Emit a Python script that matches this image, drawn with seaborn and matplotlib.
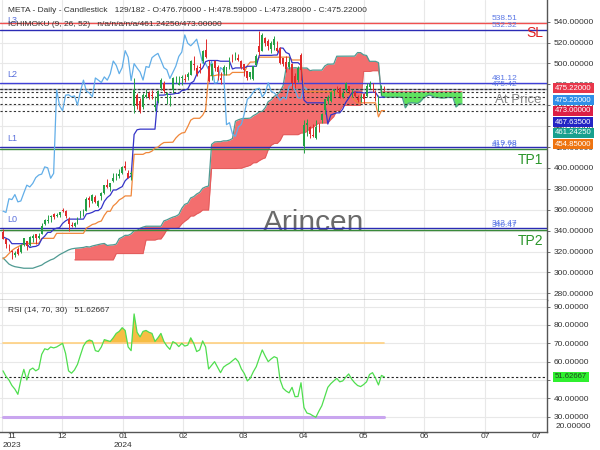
import numpy as np
import matplotlib
matplotlib.use('Agg')
import matplotlib.pyplot as plt
import seaborn as sns

# ---------------- data ----------------
opens = [339.0, 331.6, 325.5, 320.6, 316.6, 322.1, 319.1, 326.4, 329.6, 325.9,
         332.6, 336.6, 332.5, 337.2, 346.8, 349.2, 353.1, 355.6, 354.1, 355.1,
         359.7, 358.9, 351.3, 345.0, 344.5, 347.0, 354.7, 356.4, 359.0, 371.5,
         368.5, 372.6, 363.4, 373.4, 375.6, 383.2, 381.3, 387.9, 392.8, 391.9,
         394.7, 401.7, 395.3, 393.9, 459.6, 469.9, 464.0, 458.0, 468.3, 471.3,
         469.5, 458.0, 463.6, 476.9, 481.0, 470.0, 467.3, 475.0, 484.0, 479.5,
         486.5, 485.3, 486.8, 489.1, 499.0, 495.9, 497.0, 502.2, 513.3, 498.0,
         487.9, 502.5, 496.7, 486.5, 492.2, 492.6, 496.5, 507.9, 508.0, 505.0,
         502.5, 499.3, 492.8, 487.2, 485.1, 498.9, 516.8, 512.0, 524.7, 521.3,
         513.6, 518.0, 515.0, 515.1, 504.9, 500.9, 496.3, 499.8, 487.7, 483.9,
         508.1, 421.4, 441.5, 439.6, 431.6, 428.6, 442.2, 446.1, 455.8, 464.0,
         464.0, 473.5, 476.9, 476.2, 467.8, 474.5, 478.1, 471.5, 472.4, 466.6,
         466.6, 471.0, 469.2, 477.4, 475.5, 472.5, 465.8, 471.2, 476.76]
highs = [342.0, 331.9, 326.9, 321.1, 320.8, 324.4, 327.4, 333.4, 330.3, 334.7,
         336.3, 336.8, 337.4, 346.9, 351.1, 355.1, 355.0, 357.2, 356.9, 358.2,
         361.9, 360.0, 353.2, 347.9, 348.2, 353.5, 359.0, 360.6, 372.0, 373.0,
         375.0, 373.8, 369.1, 376.9, 383.9, 389.5, 386.0, 395.5, 394.7, 398.8,
         401.9, 406.4, 397.8, 396.9, 486.0, 471.9, 467.1, 471.5, 475.1, 473.8,
         474.8, 468.9, 474.4, 486.4, 483.0, 472.6, 469.7, 486.9, 488.2, 488.4,
         488.8, 489.8, 492.0, 503.1, 506.7, 498.9, 500.6, 512.6, 523.6, 503.3,
         500.5, 503.3, 498.2, 492.0, 498.1, 497.0, 505.9, 508.8, 510.8, 509.3,
         503.6, 499.7, 492.8, 491.5, 498.0, 509.1, 531.5, 528.7, 525.7, 522.9,
         521.0, 526.4, 521.6, 515.3, 505.6, 506.9, 506.6, 500.5, 490.8, 497.5,
         510.0, 445.8, 446.4, 439.8, 442.4, 445.4, 442.8, 452.9, 466.4, 469.5,
         473.9, 476.0, 478.0, 477.5, 474.3, 482.0, 478.5, 475.2, 473.8, 470.1,
         471.0, 472.0, 481.3, 483.3, 480.9, 474.3, 469.5, 479.1, 478.59]
lows = [331.5, 323.4, 320.8, 312.9, 315.2, 316.8, 318.2, 325.6, 321.5, 325.2,
        328.7, 327.4, 331.8, 336.7, 345.4, 347.6, 348.5, 351.2, 352.9, 353.0,
        357.8, 351.8, 340.0, 343.2, 343.4, 346.3, 352.1, 353.9, 358.5, 362.2,
        366.8, 366.0, 362.3, 369.0, 374.6, 380.4, 378.0, 387.0, 388.5, 390.7,
        394.4, 398.4, 389.9, 388.2, 453.0, 456.6, 453.0, 456.2, 467.1, 465.6,
        466.1, 454.4, 462.3, 475.0, 471.6, 461.1, 459.1, 472.1, 480.9, 478.9,
        479.8, 482.5, 484.5, 488.5, 493.6, 488.0, 490.7, 500.6, 505.6, 482.0,
        484.1, 493.0, 484.3, 480.5, 488.6, 489.3, 495.1, 501.8, 503.7, 502.0,
        494.2, 487.9, 483.8, 485.0, 484.5, 498.0, 508.5, 511.8, 517.0, 512.7,
        510.2, 513.0, 510.6, 499.0, 497.6, 492.0, 495.0, 475.0, 476.5, 482.2,
        484.6, 414.5, 431.0, 428.6, 429.8, 427.4, 434.5, 443.2, 451.4, 460.7,
        463.4, 468.9, 472.6, 466.9, 467.1, 472.6, 471.8, 467.6, 467.5, 462.8,
        463.0, 461.4, 467.7, 475.3, 473.0, 464.2, 454.9, 469.6, 473.28]
closes = [332.2, 327.2, 324.8, 320.0, 318.3, 317.9, 326.6, 332.8, 325.3, 334.2,
          334.7, 333.2, 334.9, 344.6, 350.4, 349.3, 354.1, 353.4, 354.8, 357.8,
          358.3, 354.0, 346.3, 344.5, 347.1, 351.9, 358.7, 357.4, 370.5, 369.7,
          374.5, 367.5, 368.4, 376.1, 383.5, 381.8, 385.2, 390.7, 393.2, 394.1,
          401.0, 400.1, 390.1, 394.8, 474.9, 459.4, 454.7, 469.6, 470.0, 468.1,
          468.9, 460.1, 473.3, 484.0, 473.3, 471.8, 468.0, 486.1, 484.0, 481.7,
          487.1, 484.0, 490.1, 502.3, 498.2, 490.2, 496.1, 512.2, 506.0, 483.6,
          499.8, 495.6, 491.8, 484.1, 497.0, 496.2, 505.5, 507.8, 509.6, 503.0,
          495.9, 493.9, 485.6, 491.4, 497.4, 506.7, 510.9, 527.3, 519.3, 516.9,
          519.8, 523.2, 511.9, 500.2, 499.8, 494.2, 501.8, 481.1, 481.7, 496.1,
          493.5, 441.4, 443.3, 432.6, 430.2, 439.2, 441.7, 452.0, 465.7, 468.2,
          472.6, 475.4, 476.2, 468.0, 471.9, 481.5, 473.2, 471.9, 468.8, 464.6,
          467.8, 465.8, 478.2, 479.9, 474.4, 467.1, 466.8, 477.5, 475.22]

tenkan = ([334.0, 332.7, 331.4] + [327.5] * 6 +
          [323.8, 324.6, 324.9, 326.3, 331.9, 334.7, 338.3, 338.3, 341.2, 342.3, 342.8, 346.9, 349.3] +
          [351.0] * 6 +
          [356.0, 356.5, 357.5, 359.1, 359.2, 361.6, 368.0, 371.7, 374.0, 378.9, 378.9, 380.6, 382.1,
           387.7, 390.5, 392.2, 432.0, 436.5] + [437.1] * 6 +
          [469.5, 469.7, 469.7, 470.4, 470.4, 470.7, 471.3, 471.4, 474.0, 474.5, 475.6, 481.1, 482.9,
           489.4, 492.8, 495.8, 501.7] + [502.8] * 4 + [502.1] * 4 + [494.7] + [495.7] * 4 +
          [497.3] * 4 + [507.7] * 5 + [508.0, 508.0, 514.8, 514.6, 510.4, 509.2] + [500.7] * 3 +
          [498.3, 464.9] + [462.3] * 7 +
          [442.0, 450.7, 451.7, 452.7, 452.7, 456.3, 462.6, 466.7, 471.4, 472.7, 472.4, 472.4, 471.7,
           471.7, 472.4, 472.4, 472.4, 467.6, 467.6, 467.635])
kijun = ([313.0, 315.0, 318.0, 321.0, 323.0, 324.5, 326.0, 327.0] + [327.8] * 5 + [332.6] * 5 +
         [337.4] * 10 +
         [342.5, 344.1, 345.9, 346.6, 348.3, 349.2, 354.6, 358.5, 358.5, 363.7, 366.1, 369.4, 371.0] +
         [373.2] * 3 + [413.0] * 4 +
         [414.6, 414.7, 416.1, 419.0, 419.9, 422.5, 424.3, 424.4, 424.4, 424.6, 428.6, 431.5, 433.4,
          433.9, 439.5, 445.7, 447.5, 447.5, 447.5, 450.4, 455.9] +
         [488.3] * 3 + [489.0] * 5 + [491.4] * 5 + [497.9, 501.3, 501.3, 501.7] + [506.0] * 11 +
         [503.3] * 4 + [473.0] * 11 + [471.6] + [470.5] * 4 + [468.1, 464.9] + [462.3] * 7 +
         [448.9, 454.85, 454.85])

# leading span A, plotted 26 bars ahead (values for plotted bars 0..154)
span_a = ([314.0, 311.0, 308.0, 306.5, 305.5, 305.0, 304.5, 304.0, 304.0, 304.0, 304.0, 305.0,
           306.0, 307.0, 309.0, 310.5, 312.0, 313.0, 315.0, 317.0, 318.5, 320.0, 321.5, 322.5,
           323.0, 323.3] +
          [323.5, 323.9, 324.7, 324.3, 325.3, 326.0, 326.8, 327.3, 327.7, 325.8,
           326.2, 326.4, 327.1, 332.3, 333.7, 335.5, 335.5, 336.9, 339.9, 340.1,
           342.2, 343.4, 344.2, 344.2, 344.2, 344.2, 344.2, 344.2, 349.3, 350.3,
           351.7, 352.9, 353.8, 355.4, 361.3, 365.1, 366.3, 371.3, 372.5, 375.0,
           376.6, 380.5, 381.9, 382.7, 422.5, 424.8, 425.1, 425.1, 425.9, 425.9,
           426.6, 428.1, 444.7, 446.1, 447.0, 447.4, 447.4, 447.7, 450.0, 451.5,
           453.7, 454.2, 457.6, 463.4, 465.2, 468.5, 470.2, 473.1, 478.8, 495.6,
           495.6, 495.6, 495.9, 495.6, 495.6, 495.6, 495.6, 493.1, 493.6, 493.6,
           493.6, 493.6, 497.6, 499.3, 499.3, 499.5, 506.9, 506.9, 506.9, 506.9,
           506.9, 507.0, 507.0, 510.4, 510.3, 508.2, 507.6, 502.0, 502.0, 502.0,
           500.8, 469.0, 467.7, 467.7, 467.7, 467.7, 467.7, 467.7, 467.7, 457.5,
           461.9, 462.4, 462.2, 461.6, 463.4, 466.6, 468.6, 469.8, 468.8, 467.4,
           467.4, 467.0, 467.0, 467.4, 467.4, 467.4, 458.3, 461.2, 461.2425])
# leading span B (values for plotted bars 24..154)
span_b = ([312.0] * 14 + [318.0] * 10 +
          [331.0, 331.0, 331.0, 331.0, 332.0, 332.0, 336.0, 341.0, 342.0, 342.0, 342.0, 343.0,
           346.5, 349.0, 351.0, 354.0, 354.0, 356.0, 357.4, 359.7, 359.7, 359.7] +
          [399.4] * 9 + [399.7, 399.7, 400.8, 401.6, 402.6, 404.9, 405.0, 407.0, 408.6, 409.7,
                         417.5, 421.7, 423.4, 423.4, 426.3] +
          [431.8] * 6 + [433.4, 433.5, 435.0, 437.9, 438.8, 441.1, 442.9, 443.0, 443.0, 443.0,
                         446.3, 449.1, 454.8, 454.8, 459.3] +
          [459.9] * 6 + [492.3] * 3 + [493.0] * 3 + [473.0] * 28)

rsi = [55.0, 52.0, 50.0, 47.0, 45.0, 42.2, 50.0, 55.8, 50.0, 55.5,
       56.5, 55.0, 56.0, 64.0, 67.0, 66.5, 68.0, 67.5, 68.0, 69.0,
       70.0, 64.5, 55.0, 53.7, 55.5, 58.5, 63.6, 68.5, 71.0, 71.8,
       71.2, 66.0, 65.5, 68.0, 72.0, 71.5, 71.0, 73.0, 75.4, 76.5,
       78.5, 77.0, 68.0, 66.0, 86.0, 76.0, 73.5, 76.5, 77.0, 76.0,
       75.4, 71.0, 73.0, 75.4, 71.0, 68.5, 66.7, 70.9, 70.0, 68.2,
       70.0, 68.5, 69.0, 73.0, 70.0, 65.5, 66.4, 71.3, 68.0, 56.0,
       58.0, 60.0, 57.0, 54.0, 57.0, 58.2, 59.1, 60.5, 61.8, 60.0,
       56.0, 53.5, 49.5, 51.0, 54.5, 57.3, 62.0, 66.4, 63.0, 60.0,
       61.5, 62.7, 62.0, 50.0, 45.5, 44.0, 43.0, 46.0, 40.9, 41.0,
       48.5, 35.0, 32.0, 31.5, 30.5, 29.7, 33.0, 36.0, 41.0, 46.0,
       48.0, 49.5, 50.9, 49.0, 49.5, 51.5, 53.3, 50.5, 48.5, 47.0,
       46.4, 47.5, 49.0, 53.0, 54.0, 51.0, 47.3, 52.5, 51.62667]

month_labels = ['11', '12', '01', '02', '03', '04', '05', '06', '07', '07']
year_labels = ['2023', '', '2024', '', '', '', '', '', '', '']
price_ticks = [280, 300, 320, 340, 360, 380, 400, 420, 440, 460, 480, 500, 520, 540]
rsi_ticks = [30, 40, 50, 60, 70, 80, 90]

level_values = [538.51, 532.32, 481.12, 475.42, 419.68, 417.78, 342.47, 340.47]
level_labels = ['538.51', '532.32', '481.12', '475.42', '419.68', '417.78', '342.47', '340.47']
l_names = ['L3', 'L2', 'L1', 'L0']
l_values = [532.32, 481.12, 419.68, 342.47]
marker_values = [475.22, 475.22, 473.0, 467.635, 461.2425, 454.85]
marker_texts = ['475.22000', '475.22000', '473.00000', '467.63500', '461.24250', '454.85000']

# ---------------- style ----------------
sns.set_theme(style='white')
plt.rcParams['font.family'] = ['Liberation Sans', 'DejaVu Sans']

W, H = 600, 450
fig = plt.figure(figsize=(6, 4.5), dpi=100)
ax = fig.add_axes([0, 150 / H, 547 / W, 300 / H])
axr = fig.add_axes([0, 18 / H, 547 / W, 132 / H])

XMIN, XMAX = -1.0, 182.55
grid_pos = [-0.34, 19.8, 40.3, 60.4, 80.5, 100.7, 121.1, 141.3, 161.7]
label_pos = [3.0, 19.8, 40.3, 60.4, 80.5, 100.7, 121.1, 141.3, 161.7, 178.9]

for a in (ax, axr):
    a.set_xlim(XMIN, XMAX)
    a.set_facecolor('white')
    a.set_xticks(grid_pos)
    a.set_xticklabels([])
    a.tick_params(axis='x', length=0)
    a.grid(True, color='#e8e8e8', lw=0.8)
    a.set_axisbelow(True)
    a.spines['left'].set_visible(False)
    a.spines['top'].set_visible(False)
    a.spines['right'].set_color('#555555')
    a.spines['bottom'].set_color('#555555')
    a.spines['right'].set_linewidth(1.0)
    a.spines['bottom'].set_linewidth(1.0)
    a.yaxis.tick_right()
    a.tick_params(axis='y', labelsize=6, labelcolor='#333333', color='#555555',
                  length=2, pad=3, width=0.6)

# ---------------- main panel ----------------
ax.set_ylim(273.6, 560.7)
ax.set_yticks(price_ticks)
ax.set_yticklabels([f'{v:.5f}' for v in price_ticks])

o = np.array(opens); hi = np.array(highs); lo = np.array(lows); c = np.array(closes)
idx = np.arange(len(c))

ax.text(104.4, 347, 'Arincen', fontsize=21.5, color='#6a6a6a', ha='center', va='center', zorder=1)

# cloud
a_arr = np.array(span_a)
b_arr = np.array(span_b)
xb = np.arange(len(a_arr) - len(b_arr), len(a_arr))
a_sub = a_arr[xb]
ax.fill_between(xb, a_sub, b_arr, where=a_sub >= b_arr, interpolate=True,
                color='#f36e6e', lw=0, zorder=2)
ax.fill_between(xb, a_sub, b_arr, where=b_arr > a_sub, interpolate=True,
                color='#5fe35f', lw=0, zorder=2)
sns.lineplot(x=np.arange(len(a_arr)), y=a_arr, ax=ax, color='#4f9a92', lw=0.9,
             legend=False, errorbar=None, zorder=3)
ax.plot(xb, b_arr, color='#e05a5a', lw=0.6, zorder=2.5)

# level lines
level_colors = ['#f05050', '#2b2bb5', '#4040d8', '#9090a0', '#2b2bb5', '#3a8a3a', '#2b2bb5', '#3a8a3a']
for v, lbl, col in zip(level_values, level_labels, level_colors):
    ax.axhline(v, color=col, lw=1.0, zorder=3)
    ax.annotate(lbl, (164.1, v), xytext=(0, 0.5), textcoords='offset points',
                fontsize=6, color='#5b78e6', ha='left', va='bottom', zorder=8)
for name, v in zip(l_names, l_values):
    ax.annotate(name, (1.3, v), xytext=(0, 3.2), textcoords='offset points',
                fontsize=6.5, color='#5a70dc', ha='left', va='bottom', zorder=8)

for v in marker_values:
    ax.axhline(v, color='#333333', lw=0.8, ls=(0, (2, 2)), zorder=3.2)

# lines
sns.lineplot(x=idx[26:] - 26, y=c[26:], ax=ax, color='#62aee8', lw=0.9,
             legend=False, errorbar=None, zorder=4)
sns.lineplot(x=idx, y=np.array(kijun), ax=ax, color='#f0873a', lw=0.9,
             legend=False, errorbar=None, zorder=4.5)
sns.lineplot(x=idx, y=np.array(tenkan), ax=ax, color='#3434c8', lw=0.9,
             legend=False, errorbar=None, zorder=4.6)

# candles
up = c >= o
cols = np.where(up, '#25a046', '#e02b2b')
ax.vlines(idx, lo, hi, colors=cols, lw=0.7, zorder=5)
body_bottom = np.minimum(o, c)
body_h = np.maximum(np.abs(c - o), 0.5)
ax.bar(idx, body_h, bottom=body_bottom, width=0.62, color=cols, lw=0, zorder=6)

# annotations
ax.text(181.2, 529.0, 'SL', fontsize=10, color='#e02020', ha='right', va='center', zorder=8)
ax.text(181.2, 407.6, 'TP1', fontsize=10, color='#2a952a', ha='right', va='center', zorder=8)
ax.text(181.2, 329.6, 'TP2', fontsize=10, color='#2a952a', ha='right', va='center', zorder=8)
ax.text(180.8, 465.0, 'At Price', fontsize=9.5, color='#8a8a8a', ha='right', va='center', zorder=8)

ax.text(8 / 547, 1 - 10 / 300,
        'META - Daily - Candlestick   129/182 - O:476.76000 - H:478.59000 - L:473.28000 - C:475.22000',
        transform=ax.transAxes, fontsize=6, color='#333333', ha='left', va='center', zorder=9)
ax.text(8 / 547, 1 - 25 / 300,
        'ICHIMOKU (9, 26, 52)   n/a/n/a/n/a/461.24250/473.00000',
        transform=ax.transAxes, fontsize=6, color='#333333', ha='left', va='center', zorder=9)

# right-side value boxes
box_colors = ['#e8364a', '#2f8fe8', '#dc1f45', '#2424c4', '#17a08e', '#ee7411']
box_y = [88, 100, 111, 122, 133, 144]
for t, col, yy in zip(marker_texts, box_colors, box_y):
    fig.text(555 / W, 1 - yy / H, t, fontsize=5.6, color='white', ha='left', va='center',
             bbox=dict(boxstyle='square,pad=0.25', fc=col, ec='none'))

# ---------------- RSI panel ----------------
r = np.array(rsi)
ridx = np.arange(len(r))
axr.set_ylim(21.66, 93.6)
axr.set_yticks(rsi_ticks)
axr.set_yticklabels([f'{v:.5f}' for v in rsi_ticks])
fig.text(556 / W, 1 - 427 / H, '20.00000', fontsize=6, color='#333333', ha='left', va='center')

axr.fill_between(ridx, r, 70, where=r > 70, interpolate=True, color='#f6bd45', lw=0, zorder=2)
axr.fill_between(ridx, r, 30, where=r < 30, interpolate=True, color='#9c7ad8', lw=0, zorder=2)
axr.plot([ridx[0], ridx[-1]], [70, 70], color='#ffd080', lw=1.2, zorder=2.5)
axr.plot([ridx[0], ridx[-1]], [30, 30], color='#c9a5ef', lw=2.2, zorder=2.5)
axr.axhline(r[-1], color='#222222', lw=0.8, ls=(0, (2, 2)), zorder=2.6)
sns.lineplot(x=ridx, y=r, ax=axr, color='#4fde4f', lw=0.9, legend=False, errorbar=None, zorder=3)

axr.text(8 / 547, 1 - 11 / 132, f'RSI (14, 70, 30)   {r[-1]:.5f}', transform=axr.transAxes,
         fontsize=6, color='#333333', ha='left', va='center')
fig.text(555 / W, 1 - 377 / H, f'{r[-1]:.5f}', fontsize=5.6, color='#224422', ha='left', va='center',
         bbox=dict(boxstyle='square,pad=0.25', fc='#2ff02f', ec='none'))

for xp, ml, yl in zip(label_pos, month_labels, year_labels):
    axr.annotate(ml, (xp, 0), xycoords=('data', 'axes fraction'), xytext=(0, -3.6),
                 textcoords='offset points', fontsize=6, color='#333333', ha='center', va='center',
                 annotation_clip=False)
    if yl:
        axr.annotate(yl, (xp, 0), xycoords=('data', 'axes fraction'), xytext=(0, -9.7),
                     textcoords='offset points', fontsize=6, color='#333333', ha='center',
                     va='center', annotation_clip=False)

fig.savefig('out.png', dpi=100)
